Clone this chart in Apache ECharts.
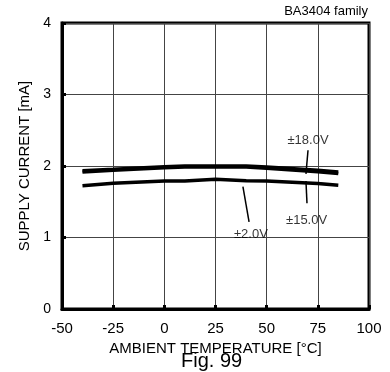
<!DOCTYPE html>
<html>
<head>
<meta charset="utf-8">
<script src="https://cdn.jsdelivr.net/npm/echarts@6/dist/echarts.min.js"></script>
<style>html,body{margin:0;padding:0;background:#fff;}#c{width:390px;height:372px;}</style>
</head>
<body>
<div id="c"></div>
<script>
var temps = [-40, -25, 0, 10, 25, 40, 50, 75, 85];
var v18 = [1.935, 1.955, 1.99, 2.0, 2.0, 2.0, 1.985, 1.94, 1.915];
var v15 = [1.915, 1.94, 1.975, 1.985, 1.99, 1.985, 1.97, 1.92, 1.895];
var v2 = [1.725, 1.76, 1.79, 1.79, 1.815, 1.795, 1.79, 1.755, 1.73];
var xTicks = [-50, -25, 0, 25, 50, 75, 100];
var yTicks = [0, 1, 2, 3, 4];
var seriesNames = ['±18.0V', '±15.0V', '±2.0V'];
// annotation label positions [temp, current]
var labelPos = [[70.2, 2.354], [69.5, 1.245], [42.3, 1.045]];
// pointer lines [[t1,c1],[t2,c2]]
var pointers = [
  [[70.2, 2.22], [69.2, 1.89]],
  [[69.2, 1.79], [69.7, 1.48]],
  [[38.4, 1.71], [41.4, 1.22]]
];
var FONT = 'Liberation Sans, Arial, sans-serif';
function pairs(xs, ys) { return xs.map(function (x, i) { return [x, ys[i]]; }); }
var chart = echarts.init(document.getElementById('c'));
chart.setOption({
  animation: false,
  backgroundColor: '#fff',
  grid: { left: 62, right: 21, top: 23, bottom: 63, show: true, borderColor: '#000', borderWidth: 3, backgroundColor: 'transparent' },
  xAxis: {
    type: 'value', min: -50, max: 100, interval: 25,
    name: 'AMBIENT TEMPERATURE [°C]', nameLocation: 'middle', nameGap: 30,
    nameTextStyle: { fontFamily: FONT, fontSize: 15, color: '#000' },
    axisLine: { show: true, onZero: false, lineStyle: { color: '#000', width: 3 } },
    axisTick: { show: true, inside: true, length: 4, lineStyle: { color: '#000', width: 3 } },
    axisLabel: { margin: 12, fontFamily: FONT, fontSize: 15, color: '#000',
      formatter: function (v) { return xTicks.indexOf(v) >= 0 ? String(v) : ''; } },
    splitLine: { show: true, lineStyle: { color: '#444', width: 1 } }
  },
  yAxis: {
    type: 'value', min: 0, max: 4, interval: 1,
    name: 'SUPPLY CURRENT [mA]', nameLocation: 'middle', nameGap: 27,
    nameTextStyle: { fontFamily: FONT, fontSize: 15, color: '#000' },
    axisLine: { show: true, onZero: false, lineStyle: { color: '#000', width: 3 } },
    axisTick: { show: true, inside: true, length: 4, lineStyle: { color: '#000', width: 3 } },
    axisLabel: { margin: 11, fontFamily: FONT, fontSize: 14, color: '#000',
      formatter: function (v) { return yTicks.indexOf(v) >= 0 ? String(v) : ''; } },
    splitLine: { show: true, lineStyle: { color: '#444', width: 1 } }
  },
  series: [
    { name: seriesNames[0], type: 'line', data: pairs(temps, v18), symbol: 'none', lineStyle: { color: '#000', width: 3.5 } },
    { name: seriesNames[1], type: 'line', data: pairs(temps, v15), symbol: 'none', lineStyle: { color: '#000', width: 3.5 } },
    { name: seriesNames[2], type: 'line', data: pairs(temps, v2), symbol: 'none', lineStyle: { color: '#000', width: 3.5 },
      markLine: {
        silent: true, symbol: ['none', 'none'], label: { show: false },
        lineStyle: { color: '#000', width: 1.5, type: 'solid' },
        data: pointers.map(function (p) { return [{ coord: p[0] }, { coord: p[1] }]; })
      }
    },
    { type: 'scatter', symbolSize: 0, silent: true,
      data: labelPos.map(function (p, i) { return { value: p, name: seriesNames[i] }; }),
      label: { show: true, position: 'inside', formatter: '{b}', fontFamily: FONT, fontSize: 13, color: '#000' }
    }
  ],
  graphic: [
    { type: 'text', right: 22, top: 5, style: { text: 'BA3404 family', fontFamily: FONT, fontSize: 13, fill: '#000' } },
    { type: 'text', left: 181, top: 351, style: { text: 'Fig. 99', fontFamily: FONT, fontSize: 20, fill: '#000' } }
  ]
});
</script>
</body>
</html>
